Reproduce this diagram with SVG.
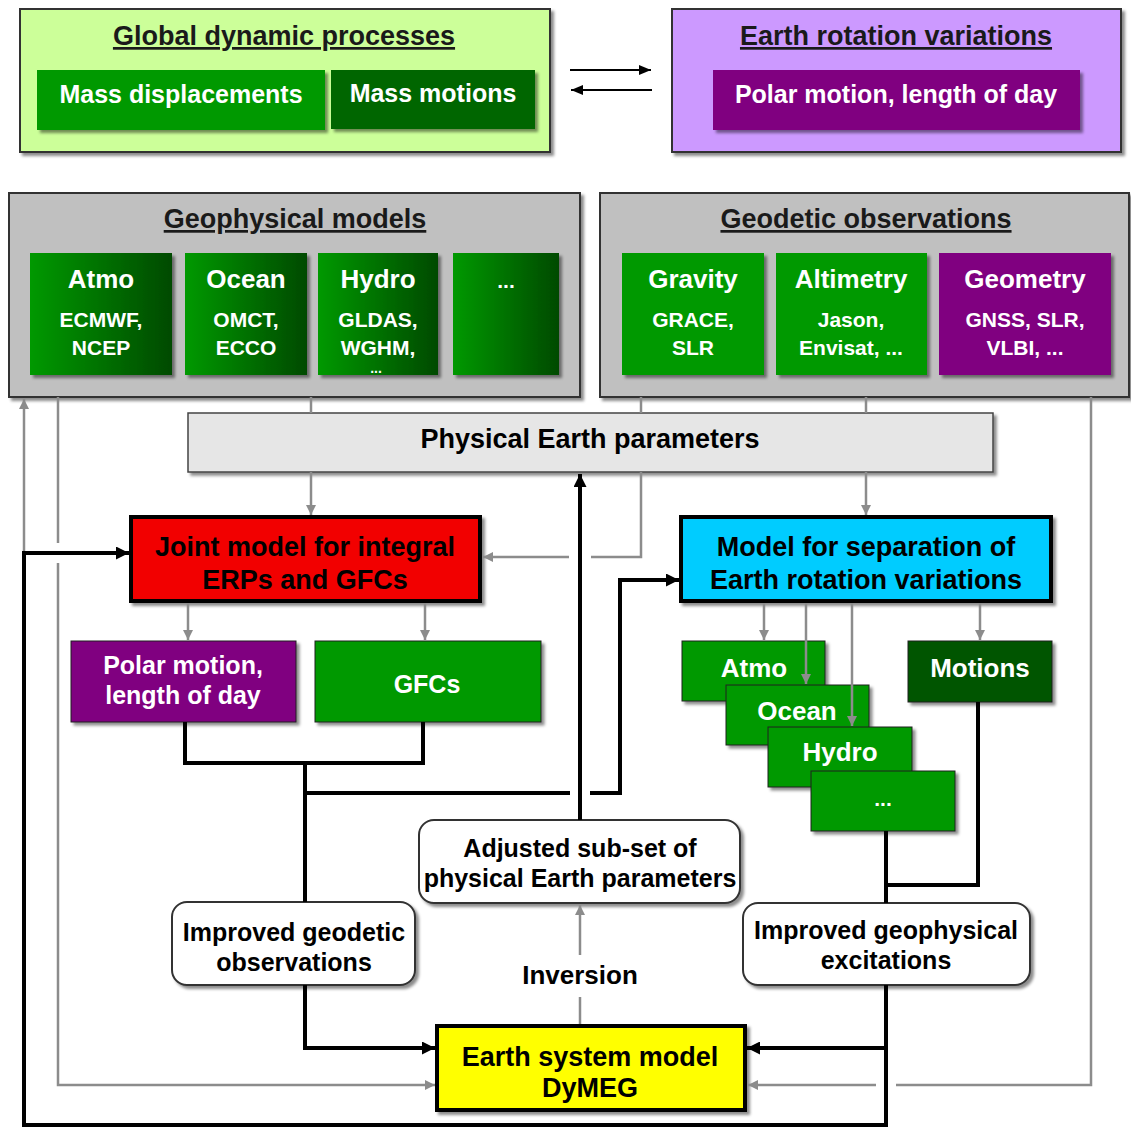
<svg xmlns="http://www.w3.org/2000/svg" width="1131" height="1128" viewBox="0 0 1131 1128">
<style>
text{font-family:"Liberation Sans",Arial,sans-serif;font-weight:bold;text-anchor:middle}
.ti{font-size:27px;fill:#1a1a1a;text-decoration:underline}
.bk{font-size:27px;fill:#000}
.bk25{font-size:25px;fill:#000}
.w25{font-size:25px;fill:#fff}
.w26{font-size:26px;fill:#fff}
.w22{font-size:21px;fill:#fff}
.frame{stroke:#333;stroke-width:2}
.thick{stroke:#000;stroke-width:4}
.rnd{fill:#fff;stroke:#333;stroke-width:2}
.g{fill:none;stroke:#8c8c8c;stroke-width:2.5}
.b{fill:none;stroke:#000;stroke-width:4}
.b2{fill:none;stroke:#000;stroke-width:2}
</style>
<defs>
<filter id="sh" x="-10%" y="-10%" width="130%" height="140%"><feDropShadow dx="3" dy="3" stdDeviation="1.5" flood-color="#000" flood-opacity="0.45"/></filter>
<linearGradient id="gr" x1="0" y1="0" x2="1" y2="0"><stop offset="0" stop-color="#009900"/><stop offset="1" stop-color="#004a00"/></linearGradient>
<marker id="ag" viewBox="0 0 10 10" refX="10" refY="5" markerWidth="10" markerHeight="10" markerUnits="userSpaceOnUse" orient="auto"><path d="M0,0 L10,5 L0,10 z" fill="#8c8c8c"/></marker>
<marker id="ab" viewBox="0 0 12 12" refX="12" refY="6" markerWidth="13" markerHeight="13" markerUnits="userSpaceOnUse" orient="auto"><path d="M0,0 L12,6 L0,12 z" fill="#000"/></marker>
<marker id="as" viewBox="0 0 12 10" refX="12" refY="5" markerWidth="12" markerHeight="10" markerUnits="userSpaceOnUse" orient="auto"><path d="M0,0 L12,5 L0,10 z" fill="#000"/></marker>
</defs>

<g id="global-dynamic-processes">
<rect x="20" y="9" width="530" height="143" fill="#ccff99" class="frame" filter="url(#sh)"/>
<text class="ti" x="284" y="45">Global dynamic processes</text>
<rect x="37" y="70" width="288" height="60" fill="#009900" filter="url(#sh)"/>
<text class="w25" x="181" y="103">Mass displacements</text>
<rect x="331" y="70" width="204" height="59" fill="#006600" filter="url(#sh)"/>
<text class="w25" x="433" y="102">Mass motions</text>
</g>

<g id="earth-rotation-variations">
<rect x="672" y="9" width="449" height="143" fill="#cc99ff" class="frame" filter="url(#sh)"/>
<text class="ti" x="896" y="45">Earth rotation variations</text>
<rect x="713" y="70" width="367" height="60" fill="#800080" filter="url(#sh)"/>
<text class="w25" x="896" y="103">Polar motion, length of day</text>
</g>

<g id="geophysical-models">
<rect x="9" y="193" width="571" height="204" fill="#c0c0c0" class="frame" filter="url(#sh)"/>
<text class="ti" x="295" y="228">Geophysical models</text>
<rect x="30" y="253" width="142" height="122" fill="url(#gr)" filter="url(#sh)"/>
<text class="w26" x="101" y="288">Atmo</text>
<text class="w22" x="101" y="327">ECMWF,</text>
<text class="w22" x="101" y="355">NCEP</text>
<rect x="185" y="253" width="122" height="122" fill="url(#gr)" filter="url(#sh)"/>
<text class="w26" x="246" y="288">Ocean</text>
<text class="w22" x="246" y="327">OMCT,</text>
<text class="w22" x="246" y="355">ECCO</text>
<rect x="318" y="253" width="120" height="122" fill="url(#gr)" filter="url(#sh)"/>
<text class="w26" x="378" y="288">Hydro</text>
<text class="w22" x="378" y="327">GLDAS,</text>
<text class="w22" x="378" y="355">WGHM,</text>
<text class="w22" x="376" y="373" style="font-size:14px">...</text>
<rect x="453" y="253" width="106" height="122" fill="url(#gr)" filter="url(#sh)"/>
<text class="w22" x="506" y="288">...</text>
</g>

<g id="geodetic-observations">
<rect x="600" y="193" width="529" height="204" fill="#c0c0c0" class="frame" filter="url(#sh)"/>
<text class="ti" x="866" y="228">Geodetic observations</text>
<rect x="622" y="253" width="142" height="122" fill="#009900" filter="url(#sh)"/>
<text class="w26" x="693" y="288">Gravity</text>
<text class="w22" x="693" y="327">GRACE,</text>
<text class="w22" x="693" y="355">SLR</text>
<rect x="776" y="253" width="151" height="122" fill="#009900" filter="url(#sh)"/>
<text class="w26" x="851" y="288">Altimetry</text>
<text class="w22" x="851" y="327">Jason,</text>
<text class="w22" x="851" y="355">Envisat, ...</text>
<rect x="939" y="253" width="172" height="122" fill="#800080" filter="url(#sh)"/>
<text class="w26" x="1025" y="288">Geometry</text>
<text class="w22" x="1025" y="327">GNSS, SLR,</text>
<text class="w22" x="1025" y="355">VLBI, ...</text>
</g>

<g id="physical-earth-parameters">
<rect x="188" y="413" width="805" height="59" fill="#e6e6e6" stroke="#444" stroke-width="1.5" filter="url(#sh)"/>
<text class="bk" x="590" y="448">Physical Earth parameters</text>
</g>

<g id="joint-model">
<rect x="131" y="517" width="349" height="84" fill="#f20000" class="thick" filter="url(#sh)"/>
<text class="bk" x="305" y="556">Joint model for integral</text>
<text class="bk" x="305" y="589">ERPs and GFCs</text>
</g>

<g id="model-separation">
<rect x="681" y="517" width="370" height="84" fill="#00ccff" class="thick" filter="url(#sh)"/>
<text class="bk" x="866" y="556">Model for separation of</text>
<text class="bk" x="866" y="589">Earth rotation variations</text>
</g>

<g id="polar-motion-lod">
<rect x="71" y="641" width="225" height="81" fill="#800080" stroke="#222" stroke-width="1" filter="url(#sh)"/>
<text class="w25" x="183" y="674">Polar motion,</text>
<text class="w25" x="183" y="704">length of day</text>
</g>

<g id="gfcs">
<rect x="315" y="641" width="226" height="81" fill="#009900" stroke="#222" stroke-width="1" filter="url(#sh)"/>
<text class="w25" x="427" y="693">GFCs</text>
</g>

<g id="sep-atmo">
<rect x="682" y="641" width="143" height="60" fill="#009900" stroke="#222" stroke-width="1" filter="url(#sh)"/>
<text class="w26" x="754" y="677">Atmo</text>
</g>
<g id="sep-ocean">
<rect x="726" y="685" width="143" height="60" fill="#009900" stroke="#222" stroke-width="1" filter="url(#sh)"/>
<text class="w26" x="797" y="720">Ocean</text>
</g>
<g id="sep-hydro">
<rect x="768" y="727" width="144" height="60" fill="#009900" stroke="#222" stroke-width="1" filter="url(#sh)"/>
<text class="w26" x="840" y="761">Hydro</text>
</g>
<g id="sep-more">
<rect x="811" y="771" width="144" height="60" fill="#009900" stroke="#222" stroke-width="1" filter="url(#sh)"/>
<text class="w22" x="883" y="806">...</text>
</g>

<g id="motions">
<rect x="908" y="641" width="144" height="61" fill="#005500" stroke="#222" stroke-width="1" filter="url(#sh)"/>
<text class="w26" x="980" y="677">Motions</text>
</g>

<g id="adjusted-subset">
<rect x="419" y="820" width="321" height="83" rx="15" class="rnd" filter="url(#sh)"/>
<text class="bk25" x="580" y="857">Adjusted sub-set of</text>
<text class="bk25" x="580" y="887">physical Earth parameters</text>
</g>

<g id="improved-geodetic">
<rect x="172" y="902" width="243" height="83" rx="15" class="rnd" filter="url(#sh)"/>
<text class="bk25" x="294" y="941">Improved geodetic</text>
<text class="bk25" x="294" y="971">observations</text>
</g>

<g id="improved-geophysical">
<rect x="743" y="903" width="287" height="82" rx="15" class="rnd" filter="url(#sh)"/>
<text class="bk25" x="886" y="939">Improved geophysical</text>
<text class="bk25" x="886" y="969">excitations</text>
</g>

<g id="dymeg">
<rect x="437" y="1026" width="308" height="84" fill="#ffff00" class="thick" filter="url(#sh)"/>
<text class="bk" x="590" y="1066">Earth system model</text>
<text class="bk" x="590" y="1097">DyMEG</text>
</g>

<g id="connectors">
<path class="b2" d="M570,70 H651" marker-end="url(#as)"/>
<path class="b2" d="M652,90 H571" marker-end="url(#as)"/>

<path class="g" d="M311,397 V413"/>
<path class="g" d="M311,472 V515" marker-end="url(#ag)"/>
<path class="g" d="M641,397 V413"/>
<path class="g" d="M641,472 V557 H591"/>
<path class="g" d="M569,557 H483" marker-end="url(#ag)"/>
<path class="g" d="M866,397 V413"/>
<path class="g" d="M866,472 V515" marker-end="url(#ag)"/>
<path class="g" d="M58,397 V543"/>
<path class="g" d="M58,563 V1085 H435" marker-end="url(#ag)"/>
<path class="g" d="M24,553 V399" marker-end="url(#ag)"/>
<path class="g" d="M1091,397 V1085 H896"/>
<path class="g" d="M876,1085 H748" marker-end="url(#ag)"/>
<path class="g" d="M580,1024 V905" marker-end="url(#ag)"/>
<path class="g" d="M188,603 V640" marker-end="url(#ag)"/>
<path class="g" d="M425,603 V640" marker-end="url(#ag)"/>
<path class="g" d="M764,603 V640" marker-end="url(#ag)"/>
<path class="g" d="M806,603 V684" marker-end="url(#ag)"/>
<path class="g" d="M852,603 V726" marker-end="url(#ag)"/>
<path class="g" d="M980,603 V640" marker-end="url(#ag)"/>

<path class="b" d="M185,722 V763 H423 V722"/>
<path class="b" d="M305,763 V902"/>
<path class="b" d="M305,793 H570"/>
<path class="b" d="M590,793 H620 V580 H679" marker-end="url(#ab)"/>
<path class="b" d="M580,820 V474" marker-end="url(#ab)"/>
<path class="b" d="M305,985 V1048 H435" marker-end="url(#ab)"/>
<path class="b" d="M886,831 V885 H978 V702"/>
<path class="b" d="M886,885 V903"/>
<path class="b" d="M886,985 V1125 H24 V553 H129" marker-end="url(#ab)"/>
<path class="b" d="M886,1048 H747" marker-end="url(#ab)"/>

<rect x="519" y="955" width="122" height="42" fill="#fff"/>
<text class="bk" x="580" y="984" style="font-size:26px">Inversion</text>
</g>
</svg>
